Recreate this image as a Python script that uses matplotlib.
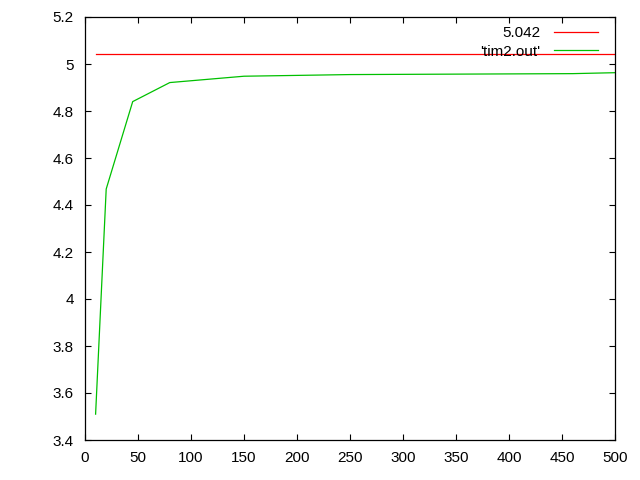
import matplotlib
matplotlib.use("Agg")
import matplotlib.pyplot as plt

plt.rcParams['font.family'] = ['Liberation Sans', 'DejaVu Sans']

const_value = 5.042
const_x = [10, 500]
x_vals = [10, 20, 45, 80, 150, 250, 460, 500]
y_vals = [3.51, 4.468, 4.840, 4.921, 4.948, 4.955, 4.959, 4.963]
x_ticks = [0, 50, 100, 150, 200, 250, 300, 350, 400, 450, 500]
y_ticks = [3.4, 3.6, 3.8, 4.0, 4.2, 4.4, 4.6, 4.8, 5.0, 5.2]
y_tick_labels = ['3.4', '3.6', '3.8', '4', '4.2', '4.4', '4.6', '4.8', '5', '5.2']

fig = plt.figure(figsize=(6.4, 4.8), dpi=100)
ax = fig.add_axes([85/640, 1-440/480, 530/640, 423/480])

ax.plot(const_x, [const_value]*len(const_x), color='#ff0000', lw=0.9, label='5.042')
ax.plot(x_vals, y_vals, color='#00c000', lw=0.9, label="'tim2.out'")

ax.set_xlim(0, 500)
ax.set_ylim(3.4, 5.2)
ax.set_xticks(x_ticks)
ax.set_yticks(y_ticks)
ax.set_yticklabels(y_tick_labels)
ax.tick_params(direction='in', top=True, right=True, length=4.5, width=0.8,
               labelsize=11, colors='black')
ax.tick_params(axis='x', pad=8)
ax.tick_params(axis='y', pad=8)
for s in ax.spines.values():
    s.set_linewidth(0.9)

leg = ax.legend(loc='upper right', markerfirst=False, frameon=False,
                fontsize=11, handlelength=2.9, handletextpad=0.85,
                labelspacing=0.3, borderaxespad=0.2, bbox_to_anchor=(0.985, 1.0))
for t in leg.get_texts():
    t.set_ha('right')

fig.savefig('out.png', dpi=100)
